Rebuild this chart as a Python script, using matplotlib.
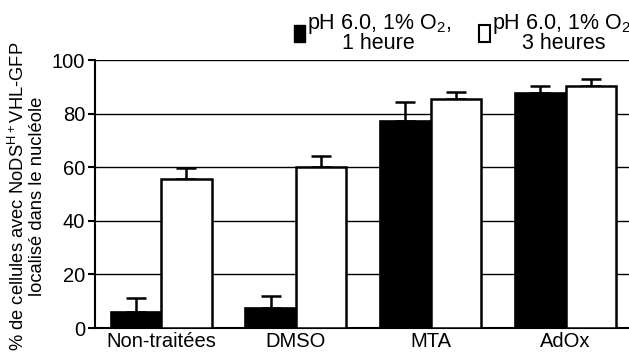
import matplotlib.pyplot as plt
import numpy as np
from matplotlib.patches import Patch

plt.rcParams['font.family'] = ['Liberation Sans', 'DejaVu Sans']
plt.rcParams['mathtext.fontset'] = 'custom'
plt.rcParams['mathtext.rm'] = 'Liberation Sans'

groups = ['Non-traitées', 'DMSO', 'MTA', 'AdOx']
oneHour = [6.1, 7.4, 77.4, 87.6]
oneHourErr = [5.1, 4.6, 7.0, 2.7]
threeHours = [55.6, 60.0, 85.4, 90.4]
threeHoursErr = [4.2, 4.2, 2.6, 2.6]
labels = ['pH 6.0, 1% O$_2$,\n1 heure', 'pH 6.0, 1% O$_2$,\n3 heures']

fig = plt.figure(figsize=(6.29, 3.64), dpi=100)
ax = fig.add_axes([95/629, 36/364, 534/629, 268/364])

x = np.arange(len(groups))
w = 0.375
ax.bar(x - w/2, oneHour, w, color='black', edgecolor='black', linewidth=1.2, zorder=3)
ax.bar(x + w/2, threeHours, w, color='white', edgecolor='black', linewidth=1.8, zorder=3)
ax.errorbar(x - w/2, oneHour, yerr=[np.zeros(4), oneHourErr], fmt='none',
            ecolor='black', elinewidth=1.8, capsize=7.5, capthick=1.8, zorder=2)
ax.errorbar(x + w/2, threeHours, yerr=[np.zeros(4), threeHoursErr], fmt='none',
            ecolor='black', elinewidth=1.8, capsize=7.5, capthick=1.8, zorder=2)

ax.set_ylim(0, 100)
ax.set_xlim(-0.49, 3.47)
ax.set_yticks([0, 20, 40, 60, 80, 100])
ax.yaxis.grid(True, color='black', linewidth=1.0)
ax.set_axisbelow(True)
for s in ['top', 'right']:
    ax.spines[s].set_visible(False)
ax.spines['left'].set_linewidth(1.5)
ax.spines['bottom'].set_linewidth(1.5)
ax.tick_params(axis='y', labelsize=14.5, length=5, width=1.5, pad=2)
ax.set_xticks(x)
ax.set_xticklabels(groups, fontsize=14.5)
ax.tick_params(axis='x', length=0, pad=3)

ax.set_ylabel('% de cellules avec NoDS$^{\\mathrm{H+}}$VHL-GFP\nlocalisé dans le nucléole',
              fontsize=13.2, linespacing=1.05)
ax.yaxis.set_label_coords(-49/534, 0.49)

handles = [Patch(facecolor='black', edgecolor='black'),
           Patch(facecolor='white', edgecolor='black', linewidth=1.5)]
leg = fig.legend(handles, labels, ncol=2, frameon=False, fontsize=15.5,
                 loc='upper left', bbox_to_anchor=(282/629, 1.0),
                 handlelength=0.5, handleheight=0.85, handletextpad=0.1,
                 columnspacing=1.3, borderaxespad=0.15, labelspacing=0.1)
for t in leg.get_texts():
    t.set_multialignment('center')
    t.set_linespacing(0.85)

fig.savefig('out.png', dpi=100)
